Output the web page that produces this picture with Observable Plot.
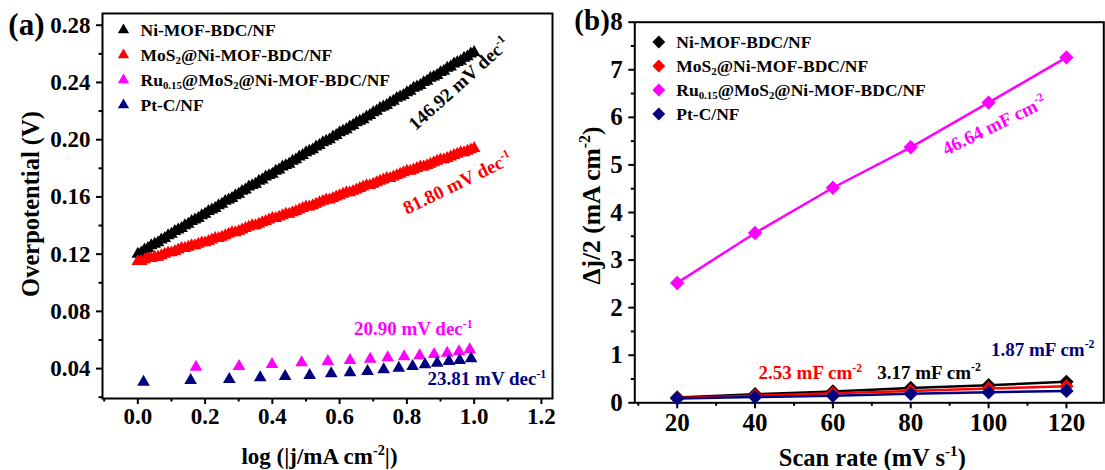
<!DOCTYPE html>
<html>
<head>
<meta charset="utf-8">
<script src="https://cdn.jsdelivr.net/npm/d3@7"></script>
<script src="https://cdn.jsdelivr.net/npm/@observablehq/plot@0.6"></script>
<style>
  body { margin: 0; background: #fff; }
  #fig { position: relative; width: 1105px; height: 470px; overflow: hidden; background: #fff; }
  #fig svg { position: absolute; top: 0; }
</style>
</head>
<body>
<div id="fig"></div>
<script>
// ---- series ----
const seriesNames = [
  "Ni-MOF-BDC/NF",
  "MoS_{2}@Ni-MOF-BDC/NF",
  "Ru_{0.15}@MoS_{2}@Ni-MOF-BDC/NF",
  "Pt-C/NF"
];
const seriesColors = ["#000000", "#ff0000", "#ff00ff", "#000080"];

// ---- (a) Tafel plots: log|j| vs overpotential ----
const tafelLogJ = [
  0.00,0.01,0.02,0.03,0.04,0.05,0.06,0.07,0.08,0.09,
  0.10,0.11,0.12,0.13,0.14,0.15,0.16,0.17,0.18,0.19,
  0.20,0.21,0.22,0.23,0.24,0.25,0.26,0.27,0.28,0.29,
  0.30,0.31,0.32,0.33,0.34,0.35,0.36,0.37,0.38,0.39,
  0.40,0.41,0.42,0.43,0.44,0.45,0.46,0.47,0.48,0.49,
  0.50,0.51,0.52,0.53,0.54,0.55,0.56,0.57,0.58,0.59,
  0.60,0.61,0.62,0.63,0.64,0.65,0.66,0.67,0.68,0.69,
  0.70,0.71,0.72,0.73,0.74,0.75,0.76,0.77,0.78,0.79,
  0.80,0.81,0.82,0.83,0.84,0.85,0.86,0.87,0.88,0.89,
  0.90,0.91,0.92,0.93,0.94,0.95,0.96,0.97,0.98,0.99,
  1.00];
const niMofEta = [
  0.120,0.121,0.123,0.124,0.126,0.127,0.128,0.130,0.131,0.133,
  0.134,0.136,0.137,0.138,0.140,0.141,0.143,0.144,0.145,0.147,
  0.148,0.150,0.151,0.152,0.154,0.155,0.157,0.158,0.159,0.161,
  0.162,0.164,0.165,0.167,0.168,0.169,0.171,0.172,0.174,0.175,
  0.176,0.178,0.179,0.181,0.182,0.183,0.185,0.186,0.188,0.189,
  0.191,0.192,0.193,0.195,0.196,0.198,0.199,0.200,0.202,0.203,
  0.205,0.206,0.207,0.209,0.210,0.212,0.213,0.214,0.216,0.217,
  0.219,0.220,0.222,0.223,0.224,0.226,0.227,0.229,0.230,0.231,
  0.233,0.234,0.236,0.237,0.238,0.240,0.241,0.243,0.244,0.245,
  0.247,0.248,0.250,0.251,0.253,0.254,0.255,0.257,0.258,0.260,
  0.261];
const mos2Eta = [
  0.115,0.115,0.116,0.117,0.117,0.118,0.118,0.119,0.120,0.121,
  0.121,0.122,0.123,0.124,0.124,0.125,0.126,0.126,0.127,0.128,
  0.128,0.129,0.130,0.131,0.131,0.132,0.133,0.134,0.135,0.135,
  0.136,0.137,0.138,0.139,0.140,0.140,0.141,0.142,0.143,0.144,
  0.145,0.145,0.146,0.147,0.148,0.148,0.149,0.150,0.151,0.152,
  0.153,0.153,0.154,0.155,0.156,0.157,0.158,0.158,0.159,0.160,
  0.161,0.162,0.163,0.163,0.164,0.165,0.166,0.167,0.168,0.168,
  0.169,0.170,0.171,0.172,0.173,0.173,0.174,0.175,0.176,0.177,
  0.178,0.178,0.179,0.180,0.181,0.181,0.182,0.183,0.184,0.185,
  0.186,0.186,0.187,0.188,0.189,0.190,0.191,0.191,0.192,0.193,
  0.194];
const ruLogJ = [0.173,0.301,0.399,0.487,0.565,0.631,0.691,0.743,0.792,0.838,0.881,0.920,0.955,0.987];
const ruEta = [0.0411,0.0416,0.0430,0.0442,0.0451,0.0458,0.0467,0.0477,0.0484,0.0491,0.0500,0.0509,0.0519,0.0533];
const ptLogJ = [0.017,0.157,0.272,0.364,0.438,0.511,0.575,0.631,0.683,0.731,0.776,0.817,0.854,0.890,0.925,0.957,0.991];
const ptEta = [0.0306,0.0318,0.0325,0.0337,0.0346,0.0353,0.0365,0.0372,0.0381,0.0393,0.0404,0.0416,0.0428,0.0439,0.0451,0.0458,0.0470];
const tafelSlopes = ["146.92 mV dec^{-1}", "81.80 mV dec^{-1}", "20.90 mV dec^{-1}", "23.81 mV dec^{-1}"];
const tafelXTicks = [0.0, 0.2, 0.4, 0.6, 0.8, 1.0, 1.2];
const tafelXMinor = [-0.1, 0.1, 0.3, 0.5, 0.7, 0.9, 1.1];
const tafelYTicks = [0.04, 0.08, 0.12, 0.16, 0.20, 0.24, 0.28];
const tafelYMinor = [0.02, 0.06, 0.10, 0.14, 0.18, 0.22, 0.26];

// ---- (b) double-layer capacitance: scan rate vs Δj/2 ----
const scanRate = [20, 40, 60, 80, 100, 120];
const cdlNiMof = [0.11, 0.18, 0.24, 0.31, 0.37, 0.44];
const cdlMos2 = [0.10, 0.15, 0.20, 0.25, 0.30, 0.35];
const cdlRu = [2.52, 3.57, 4.52, 5.37, 6.31, 7.26];
const cdlPt = [0.09, 0.12, 0.15, 0.19, 0.22, 0.25];
const cdlValues = ["3.17 mF cm^{-2}", "2.53 mF cm^{-2}", "46.64 mF cm^{-2}", "1.87 mF cm^{-2}"];
const cdlXTicks = [20, 40, 60, 80, 100, 120];
const cdlXMinor = [10, 30, 50, 70, 90, 110];
const cdlYTicks = [0, 1, 2, 3, 4, 5, 6, 7, 8];
const cdlYMinor = [0.5, 1.5, 2.5, 3.5, 4.5, 5.5, 6.5, 7.5];

const SERIF = "'Liberation Serif', 'Times New Roman', serif";
const LEGEND_FS = 17.5, NOTE_FS = 19;

// Turn ^{..} / _{..} markup inside SVG text into raised / lowered tspans.
function applyScripts(root) {
  root.querySelectorAll("text").forEach(t => {
    const s = t.textContent;
    if (!/[\^_]\{/.test(s)) return;
    const fs = parseFloat(getComputedStyle(t).fontSize) || 16;
    const parts = s.split(/(\^\{[^}]*\}|_\{[^}]*\})/).filter(p => p !== "");
    while (t.firstChild) t.removeChild(t.firstChild);
    let shift = 0;
    for (const p of parts) {
      const ts = document.createElementNS("http://www.w3.org/2000/svg", "tspan");
      let target = 0, text = p, size = null;
      if (p.startsWith("^{")) { target = -0.40 * fs; text = p.slice(2, -1); size = 0.62 * fs; }
      else if (p.startsWith("_{")) { target = 0.22 * fs; text = p.slice(2, -1); size = 0.62 * fs; }
      const dy = target - shift;
      if (dy) ts.setAttribute("dy", dy.toFixed(2));
      shift = target;
      if (size) ts.setAttribute("font-size", size.toFixed(2));
      ts.textContent = text;
      t.appendChild(ts);
    }
  });
}

function frameAxes(xTicks, xMinor, yTicks, yMinor, xFmt, yFmt, xPad, yPad, fs) {
  return [
    Plot.axisX({ticks: xTicks, tickSize: 6, tickPadding: xPad, strokeWidth: 2, fontSize: fs, tickFormat: xFmt, label: null}),
    Plot.axisX({ticks: xMinor, tickSize: 3.5, strokeWidth: 2, fill: "none", label: null}),
    Plot.axisY({ticks: yTicks, tickSize: 6, tickPadding: yPad, strokeWidth: 2, fontSize: fs, tickFormat: yFmt, label: null}),
    Plot.axisY({ticks: yMinor, tickSize: 3.5, strokeWidth: 2, fill: "none", label: null}),
    Plot.frame({stroke: "black", strokeWidth: 2})
  ];
}

function legend(symbol, r, symDx, textDx, top, step) {
  return seriesNames.flatMap((name, i) => [
    Plot.dot([name], {frameAnchor: "top-left", dx: symDx, dy: top + step * i, symbol, r, fill: seriesColors[i]}),
    Plot.text([name], {frameAnchor: "top-left", dx: textDx, dy: top + step * i, text: d => d,
      textAnchor: "start", lineAnchor: "middle", fontSize: LEGEND_FS, fill: "black"})
  ]);
}

// ---- panel (a) ----
const tafelSeries = [
  [tafelLogJ, niMofEta],
  [tafelLogJ, mos2Eta],
  [ruLogJ, ruEta],
  [ptLogJ, ptEta]
];
const tafelNotes = [
  {i: 0, x: 0.955, y: 0.239, rotate: -42},
  {i: 1, x: 0.951, y: 0.1695, rotate: -26},
  {i: 2, x: 0.819, y: 0.0675, rotate: 0},
  {i: 3, x: 1.038, y: 0.0325, rotate: 0}
];

const left = Plot.plot({
  width: 560, height: 470,
  marginLeft: 102, marginRight: 8, marginTop: 13, marginBottom: 72,
  x: {domain: [-0.105, 1.233]},
  y: {domain: [0.0191, 0.2882]},
  style: {fontFamily: SERIF, fontWeight: "bold", background: "transparent", color: "black"},
  marks: [
    ...frameAxes(tafelXTicks, tafelXMinor, tafelYTicks, tafelYMinor, d3.format(".1f"), d3.format(".2f"), 3, 6, 23),
    ...tafelSeries.map(([xs, ys], i) =>
      Plot.dot(xs, {x: xs, y: ys, symbol: "triangle", r: 4.7, fill: seriesColors[i]})),
    ...tafelNotes.map(n =>
      Plot.text([tafelSlopes[n.i]], {x: () => n.x, y: () => n.y, text: d => d, rotate: n.rotate, fontSize: NOTE_FS, fill: seriesColors[n.i]})),
    ...legend("triangle", 4.2, 21, 38, 16.5, 25),
    Plot.text(["Overpotential (V)"], {frameAnchor: "left", dx: -71, dy: -2, textAnchor: "middle", lineAnchor: "middle", rotate: -90, fontSize: 24.5, fill: "black"}),
    Plot.text(["log (|j/mA cm^{-2}|)"], {frameAnchor: "bottom", dx: -8, dy: 58, lineAnchor: "middle", fontSize: 23, fill: "black"}),
    Plot.text(["(a)"], {frameAnchor: "top-left", dx: -58, dy: 12, textAnchor: "end", lineAnchor: "middle", fontSize: 31, fill: "black"})
  ]
});
left.style.left = "0px";

// ---- panel (b) ----
const cdlSeries = [cdlNiMof, cdlMos2, cdlRu, cdlPt];
const cdlNotes = [
  {i: 2, x: 101.5, y: 5.83, rotate: -26},
  {i: 1, x: 54.2, y: 0.62, rotate: 0},
  {i: 0, x: 84.7, y: 0.63, rotate: 0},
  {i: 3, x: 113.9, y: 1.11, rotate: 0}
];

const right = Plot.plot({
  width: 545, height: 470,
  marginLeft: 74.3, marginRight: 1.7, marginTop: 21.7, marginBottom: 67.7,
  x: {domain: [9.1, 129.6]},
  y: {domain: [0, 8]},
  style: {fontFamily: SERIF, fontWeight: "bold", background: "transparent", color: "black"},
  marks: [
    ...frameAxes(cdlXTicks, cdlXMinor, cdlYTicks, cdlYMinor, d3.format("d"), d3.format("d"), 4, 6, 25),
    ...cdlSeries.flatMap((ys, i) => [
      Plot.line(scanRate, {x: scanRate, y: ys, stroke: seriesColors[i], strokeWidth: 2.5}),
      Plot.dot(scanRate, {x: scanRate, y: ys, symbol: "diamond2", r: 6.5, fill: seriesColors[i]})
    ]),
    ...cdlNotes.map(n =>
      Plot.text([cdlValues[n.i]], {x: () => n.x, y: () => n.y, text: d => d, rotate: n.rotate, fontSize: NOTE_FS, fill: seriesColors[n.i]})),
    ...legend("diamond2", 5.8, 24, 41.5, 19.8, 24),
    Plot.text(["Δj/2 (mA cm^{-2})"], {frameAnchor: "left", dx: -43, dy: -7, textAnchor: "middle", lineAnchor: "middle", rotate: -90, fontSize: 25.5, fill: "black"}),
    Plot.text(["Scan rate (mV s^{-1})"], {frameAnchor: "bottom", dx: 3, dy: 55, lineAnchor: "middle", fontSize: 24.5, fill: "black"}),
    Plot.text(["(b)"], {frameAnchor: "top-left", dx: -25, dy: -1, textAnchor: "end", lineAnchor: "middle", fontSize: 29, fill: "black"})
  ]
});
right.style.left = "560px";

const fig = document.getElementById("fig");
fig.appendChild(left);
fig.appendChild(right);
applyScripts(left);
applyScripts(right);
</script>
</body>
</html>
